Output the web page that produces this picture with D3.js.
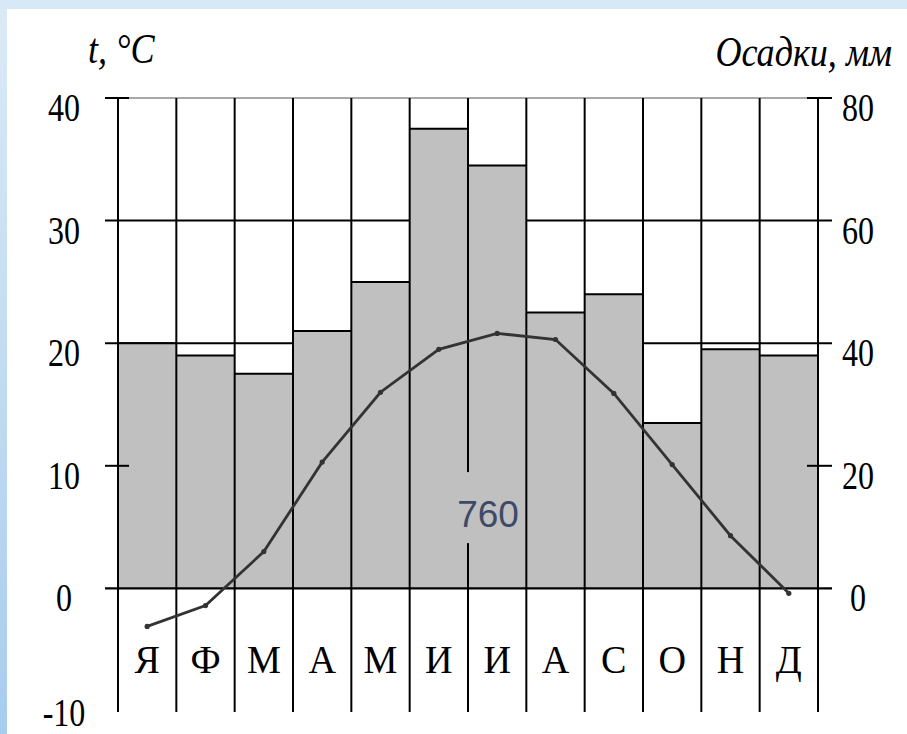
<!DOCTYPE html>
<html>
<head>
<meta charset="utf-8">
<script src="https://cdn.jsdelivr.net/npm/d3@7"></script>
<style>
  body { margin: 0; background: #fff; }
  svg { display: block; }
</style>
</head>
<body>
<div id="chart"></div>
<script>
// data
var months = ["Я", "Ф", "М", "А", "М", "И", "И", "А", "С", "О", "Н", "Д"];
var precip = [40, 38, 35, 42, 50, 75, 69, 45, 48, 27, 39, 38];          // mm
var temps = [-3.1, -1.4, 3.0, 10.3, 16.0, 19.5, 20.8, 20.3, 15.9, 10.1, 4.3, -0.4]; // °C
var tempTicks = [40, 30, 20, 10, 0, -10];
var precipTicks = [80, 60, 40, 20, 0];
var annualTotal = "760";

var width = 907;
var height = 734;

var svg = d3.select('#chart')
    .append('svg')
    .attr('width', width)
    .attr('height', height);

// slide frame
var defs = svg.append('defs');
var grad = defs.append('linearGradient')
    .attr('id', 'frame')
    .attr('x1', 0).attr('y1', 0).attr('x2', 0).attr('y2', 1);
grad.append('stop').attr('offset', '0%').attr('stop-color', '#dceaf6');
grad.append('stop').attr('offset', '100%').attr('stop-color', '#a7cdec');

svg.append('rect')
    .attr('width', width).attr('height', height)
    .attr('fill', 'url(#frame)');
svg.append('rect')
    .attr('width', width).attr('height', 9)
    .attr('fill', '#d7e9f6');
svg.append('rect')
    .attr('x', 7).attr('y', 9)
    .attr('width', width - 7).attr('height', height - 9)
    .attr('fill', '#fff');

var plotLeft = 118, plotRight = 818, plotTop = 98, plotBottom = 711;

var x = d3.scaleBand()
    .domain(d3.range(months.length))
    .range([plotLeft, plotRight])
    .padding(0);

var yT = d3.scaleLinear().domain([-10, 40]).range([plotBottom, plotTop]);
var yP = d3.scaleLinear().domain([-20, 80]).range([plotBottom, plotTop]);

var outer = 13, inner = 11;

// gridlines behind bars (30 and 20 °C)
svg.selectAll('.grid')
    .data([30, 20])
    .enter().append('line')
    .attr('class', 'grid')
    .attr('x1', plotLeft - outer).attr('x2', plotRight + outer + 1)
    .attr('y1', function(d) { return yT(d); })
    .attr('y2', function(d) { return yT(d); })
    .attr('stroke', '#000').attr('stroke-width', 2);

// precipitation bars
svg.selectAll('.bar')
    .data(precip)
    .enter().append('rect')
    .attr('class', 'bar')
    .attr('x', function(d, i) { return x(i); })
    .attr('width', x.bandwidth())
    .attr('y', function(d) { return yP(d); })
    .attr('height', function(d) { return yP(0) - yP(d); })
    .attr('fill', '#c0c0c0');

svg.selectAll('.bartop')
    .data(precip)
    .enter().append('line')
    .attr('class', 'bartop')
    .attr('x1', function(d, i) { return x(i); })
    .attr('x2', function(d, i) { return x(i) + x.bandwidth(); })
    .attr('y1', function(d) { return yP(d); })
    .attr('y2', function(d) { return yP(d); })
    .attr('stroke', '#000').attr('stroke-width', 2);

// top border (grey) at 40
svg.append('line')
    .attr('x1', plotLeft - outer).attr('x2', plotRight + outer + 1)
    .attr('y1', yT(40)).attr('y2', yT(40))
    .attr('stroke', '#a8a8a8').attr('stroke-width', 2);

// column separators
var edges = d3.range(months.length).map(function(i) { return x(i); });
edges.push(x.range()[1]);

svg.selectAll('.col')
    .data(edges)
    .enter().append('line')
    .attr('class', 'col')
    .attr('x1', function(d) { return d; })
    .attr('x2', function(d) { return d; })
    .attr('y1', yT(40))
    .attr('y2', yT(-10) + 1)
    .attr('stroke', '#000').attr('stroke-width', 2);

// baseline 0
svg.append('line')
    .attr('x1', plotLeft - outer).attr('x2', plotRight + outer + 1)
    .attr('y1', yT(0)).attr('y2', yT(0))
    .attr('stroke', '#000').attr('stroke-width', 2.2);

// crossing ticks at 40 and 10 on both sides
[40, 10].forEach(function(v) {
    svg.append('line')
        .attr('x1', plotLeft - outer).attr('x2', plotLeft + inner)
        .attr('y1', yT(v)).attr('y2', yT(v))
        .attr('stroke', '#000').attr('stroke-width', 2);
    svg.append('line')
        .attr('x1', plotRight - inner).attr('x2', plotRight + outer + 1)
        .attr('y1', yT(v)).attr('y2', yT(v))
        .attr('stroke', '#000').attr('stroke-width', 2);
});

// annual total label with a gap cut in the separator
var totalG = svg.append('g');
var totalText = totalG.append('text')
    .attr('x', x(6) + 20)
    .attr('y', yT(5))
    .attr('text-anchor', 'middle')
    .attr('font-family', 'Liberation Sans, Arial, sans-serif')
    .attr('font-size', 37)
    .attr('fill', '#3d4a68')
    .text(annualTotal);
var bb = totalText.node().getBBox();
totalG.insert('rect', 'text')
    .attr('x', bb.x - 4).attr('y', bb.y - 22)
    .attr('width', bb.width + 8).attr('height', bb.height + 30)
    .attr('fill', '#c0c0c0');

// temperature line
var line = d3.line()
    .x(function(d, i) { return x(i) + x.bandwidth() / 2; })
    .y(function(d) { return yT(d); });

svg.append('path')
    .datum(temps)
    .attr('d', line)
    .attr('fill', 'none')
    .attr('stroke', '#333')
    .attr('stroke-width', 2.8);

svg.selectAll('.pt')
    .data(temps)
    .enter().append('circle')
    .attr('class', 'pt')
    .attr('cx', function(d, i) { return x(i) + x.bandwidth() / 2; })
    .attr('cy', function(d) { return yT(d); })
    .attr('r', 2.6)
    .attr('fill', '#333');

// text helper (the original is horizontally squeezed)
function label(px, py, str, size, sx, anchor, italic) {
    svg.append('text')
        .attr('transform', 'translate(' + px + ',' + py + ') scale(' + sx + ',1)')
        .attr('text-anchor', anchor)
        .attr('font-family', 'Liberation Serif, Times New Roman, serif')
        .attr('font-style', italic ? 'italic' : 'normal')
        .attr('font-size', size)
        .attr('fill', '#000')
        .text(str);
}

tempTicks.forEach(function(v) {
    label(64, Math.min(yT(v) + 23, height - 8), v, 40, 0.8, 'middle', false);
});
precipTicks.forEach(function(v) {
    label(858, yP(v) + 23, v, 40, 0.8, 'middle', false);
});

months.forEach(function(m, i) {
    label(x(i) + x.bandwidth() / 2, 673, m, 41, 0.93, 'middle', false);
});

label(88, 63, "t, °C", 42, 0.86, 'start', true);
label(892, 66, "Осадки, мм", 42, 0.86, 'end', true);
</script>
</body>
</html>
